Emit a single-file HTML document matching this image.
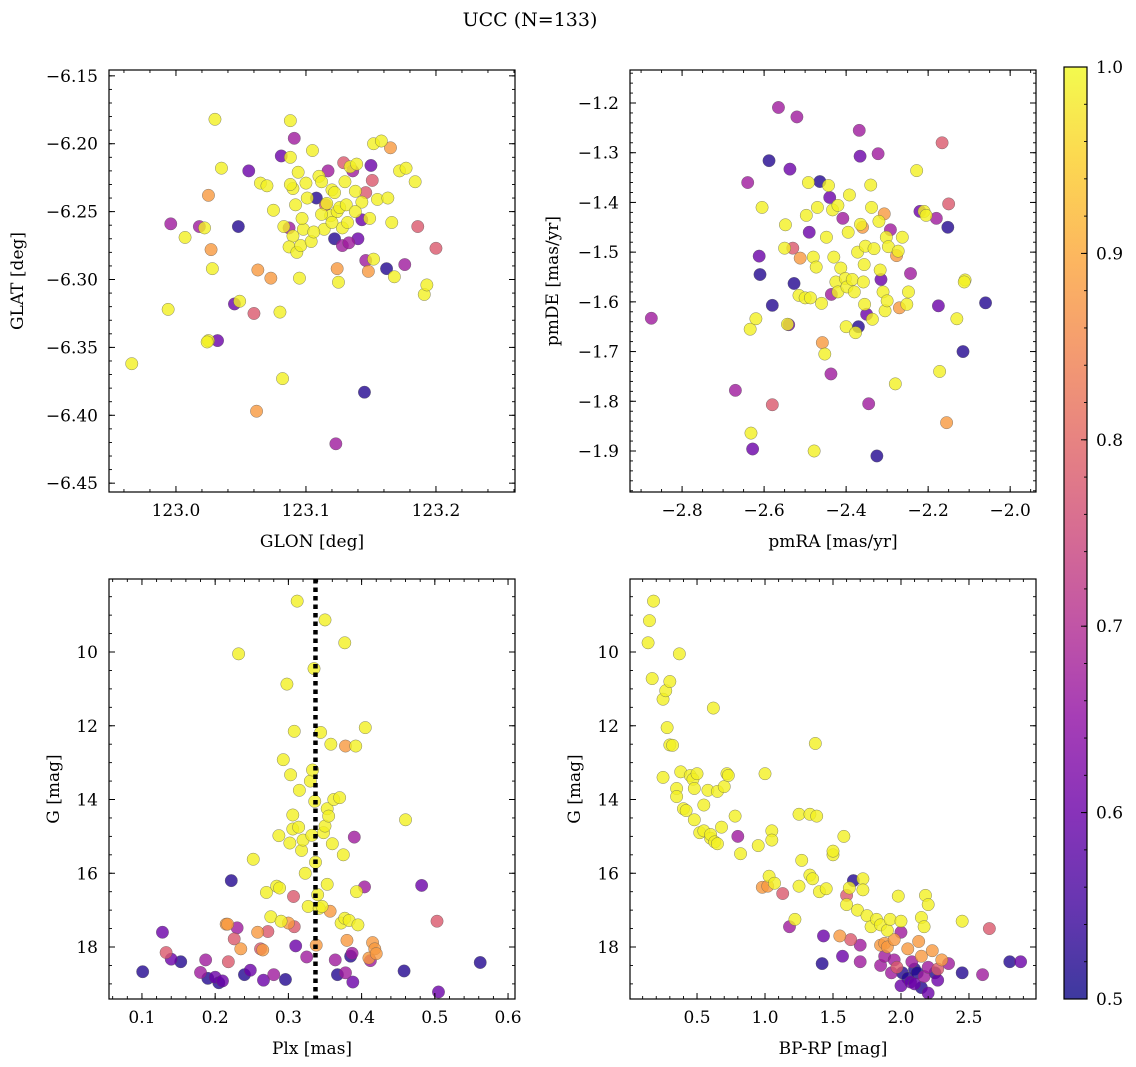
<!DOCTYPE html>
<html><head><meta charset="utf-8"><style>
html,body{margin:0;padding:0;background:#fff;}
svg{display:block;font-family:"DejaVu Serif","Liberation Serif",serif;}
</style></head><body>
<svg id="fig" width="1136" height="1067" viewBox="0 0 1136 1067">
<defs>
<linearGradient id="plasma" x1="0" y1="1" x2="0" y2="0">
<stop offset="0" stop-color="#0d0887"/><stop offset="0.1" stop-color="#41049d"/><stop offset="0.2" stop-color="#6a00a8"/><stop offset="0.3" stop-color="#8f0da4"/><stop offset="0.4" stop-color="#b12a90"/><stop offset="0.5" stop-color="#cc4778"/><stop offset="0.6" stop-color="#e16462"/><stop offset="0.7" stop-color="#f2844b"/><stop offset="0.8" stop-color="#fca636"/><stop offset="0.9" stop-color="#fcce25"/><stop offset="1" stop-color="#f0f921"/>
</linearGradient>
</defs>
<text x="530" y="26" font-size="19" text-anchor="middle">UCC (N=133)</text>
</svg>
<script>
const Y=0.99;
// Panel 1: GLON vs GLAT
const p1Lon=[122.966,122.994,122.996,123.007,123.018,123.022,123.025,123.024,123.032,123.025,123.027,123.028,123.030,123.035,123.045,123.049,123.048,123.056,123.060,123.062,123.063,123.065,123.070,123.075,123.073,123.080,123.083,123.081,123.082,123.088,123.088,123.091,123.090,123.088,123.092,123.094,123.087,123.090,123.087,123.093,123.095,123.098,123.096,123.101,123.104,123.105,123.108,123.110,123.112,123.114,123.115,123.117,123.119,123.120,123.122,123.122,123.123,123.124,123.125,123.124,123.126,123.128,123.128,123.129,123.130,123.131,123.133,123.134,123.136,123.138,123.139,123.140,123.143,123.143,123.145,123.146,123.146,123.148,123.149,123.150,123.151,123.152,123.152,123.155,123.158,123.162,123.163,123.165,123.166,123.168,123.172,123.176,123.177,123.184,123.186,123.191,123.193,123.200,123.112,123.106,123.120,123.116,123.132,123.100,123.097,123.138];
const p1Lat=[-6.362,-6.322,-6.259,-6.269,-6.261,-6.262,-6.345,-6.346,-6.345,-6.238,-6.278,-6.292,-6.182,-6.218,-6.318,-6.316,-6.261,-6.220,-6.325,-6.397,-6.293,-6.229,-6.231,-6.249,-6.299,-6.324,-6.261,-6.209,-6.373,-6.183,-6.210,-6.196,-6.233,-6.230,-6.245,-6.221,-6.262,-6.268,-6.276,-6.280,-6.299,-6.263,-6.275,-6.240,-6.272,-6.205,-6.240,-6.224,-6.228,-6.263,-6.245,-6.220,-6.253,-6.234,-6.236,-6.270,-6.421,-6.292,-6.302,-6.250,-6.247,-6.262,-6.275,-6.214,-6.228,-6.245,-6.273,-6.217,-6.220,-6.235,-6.215,-6.270,-6.256,-6.243,-6.383,-6.236,-6.286,-6.294,-6.255,-6.216,-6.227,-6.200,-6.285,-6.241,-6.198,-6.292,-6.240,-6.203,-6.258,-6.298,-6.220,-6.289,-6.218,-6.228,-6.261,-6.311,-6.304,-6.277,-6.252,-6.265,-6.258,-6.244,-6.258,-6.229,-6.255,-6.250];
const p1Prob=[Y,Y,0.67,Y,0.67,Y,Y,Y,0.6,0.88,0.88,Y,Y,Y,0.6,Y,0.52,0.6,0.78,0.88,0.88,Y,Y,Y,0.88,Y,Y,0.6,Y,Y,Y,0.67,Y,Y,Y,Y,0.67,Y,Y,Y,Y,Y,Y,Y,Y,Y,0.52,Y,Y,Y,0.78,0.67,Y,Y,Y,0.52,0.67,0.88,Y,Y,Y,Y,0.67,0.78,Y,Y,0.67,Y,0.67,Y,Y,0.6,0.6,Y,0.52,0.78,0.67,0.88,Y,0.6,0.78,Y,Y,Y,Y,0.52,Y,0.88,Y,Y,Y,0.67,Y,Y,0.78,Y,Y,0.78,Y,Y,Y,Y,Y,Y,Y,Y];
// Panel 2: pmRA vs pmDE
const p2Ra=[-2.875,-2.670,-2.640,-2.634,-2.632,-2.628,-2.620,-2.612,-2.610,-2.605,-2.588,-2.580,-2.580,-2.565,-2.550,-2.548,-2.543,-2.540,-2.537,-2.530,-2.527,-2.520,-2.515,-2.512,-2.500,-2.497,-2.492,-2.490,-2.487,-2.480,-2.478,-2.473,-2.470,-2.464,-2.460,-2.458,-2.452,-2.448,-2.443,-2.440,-2.437,-2.436,-2.433,-2.430,-2.425,-2.420,-2.420,-2.413,-2.408,-2.402,-2.400,-2.398,-2.395,-2.392,-2.385,-2.380,-2.377,-2.372,-2.370,-2.368,-2.366,-2.365,-2.360,-2.358,-2.356,-2.355,-2.353,-2.350,-2.345,-2.340,-2.338,-2.336,-2.332,-2.325,-2.322,-2.320,-2.317,-2.315,-2.310,-2.307,-2.305,-2.302,-2.300,-2.297,-2.292,-2.280,-2.277,-2.273,-2.270,-2.263,-2.252,-2.248,-2.243,-2.228,-2.220,-2.210,-2.205,-2.180,-2.175,-2.172,-2.166,-2.155,-2.152,-2.150,-2.130,-2.115,-2.110,-2.112,-2.060];
const p2De=[-1.633,-1.778,-1.360,-1.655,-1.864,-1.896,-1.634,-1.508,-1.545,-1.410,-1.316,-1.607,-1.807,-1.209,-1.492,-1.445,-1.645,-1.646,-1.333,-1.492,-1.563,-1.228,-1.587,-1.512,-1.592,-1.426,-1.360,-1.460,-1.592,-1.510,-1.900,-1.530,-1.410,-1.358,-1.603,-1.682,-1.705,-1.470,-1.366,-1.390,-1.745,-1.585,-1.415,-1.510,-1.560,-1.580,-1.406,-1.532,-1.432,-1.553,-1.650,-1.570,-1.460,-1.385,-1.555,-1.580,-1.662,-1.500,-1.650,-1.255,-1.307,-1.444,-1.450,-1.560,-1.525,-1.605,-1.488,-1.625,-1.805,-1.365,-1.410,-1.635,-1.493,-1.910,-1.302,-1.438,-1.536,-1.555,-1.580,-1.423,-1.618,-1.470,-1.598,-1.489,-1.455,-1.765,-1.507,-1.498,-1.612,-1.470,-1.605,-1.580,-1.543,-1.336,-1.418,-1.418,-1.426,-1.432,-1.608,-1.740,-1.280,-1.843,-1.450,-1.403,-1.634,-1.700,-1.556,-1.560,-1.602];
const p2Prob=[0.67,0.67,0.67,Y,Y,0.6,Y,0.6,0.52,Y,0.52,0.52,0.78,0.67,Y,Y,Y,0.6,0.6,0.78,0.52,0.67,Y,0.88,Y,Y,Y,0.6,Y,Y,Y,Y,Y,0.52,Y,0.88,Y,Y,Y,0.6,0.67,0.67,Y,Y,Y,Y,Y,Y,0.67,Y,Y,Y,Y,Y,Y,Y,Y,Y,0.52,0.67,0.6,Y,0.88,Y,Y,Y,Y,0.6,0.67,Y,Y,Y,Y,0.52,0.67,Y,Y,0.6,Y,0.88,Y,Y,Y,Y,0.67,Y,0.88,Y,0.88,Y,Y,Y,0.67,Y,0.6,Y,Y,0.67,0.6,Y,0.78,0.88,0.52,0.78,Y,0.52,Y,Y,0.52];
// Panel 3: Plx vs G
const plxMean=0.337;
const p3Plx=[0.101,0.128,0.133,0.140,0.153,0.180,0.187,0.190,0.200,0.205,0.210,0.215,0.217,0.218,0.222,0.226,0.230,0.232,0.235,0.240,0.248,0.252,0.258,0.262,0.265,0.266,0.270,0.272,0.276,0.280,0.284,0.287,0.288,0.290,0.293,0.296,0.298,0.300,0.302,0.303,0.306,0.306,0.307,0.308,0.308,0.310,0.312,0.314,0.315,0.318,0.320,0.323,0.325,0.327,0.330,0.332,0.333,0.335,0.336,0.337,0.338,0.340,0.342,0.344,0.346,0.348,0.350,0.350,0.353,0.353,0.355,0.357,0.358,0.360,0.362,0.364,0.367,0.370,0.372,0.375,0.377,0.377,0.378,0.378,0.380,0.383,0.385,0.387,0.388,0.390,0.392,0.393,0.395,0.404,0.405,0.410,0.412,0.415,0.418,0.420,0.458,0.460,0.482,0.503,0.505,0.562];
const p3G=[18.67,17.60,18.15,18.33,18.40,18.69,18.35,18.85,18.82,18.97,18.92,17.38,17.38,18.40,16.20,17.78,17.48,10.05,18.05,18.75,18.63,15.62,17.60,18.05,18.08,18.90,16.52,17.58,17.18,18.75,16.35,14.98,16.40,17.30,12.92,18.88,10.87,17.35,15.18,13.33,14.42,14.80,16.63,12.15,17.45,17.97,8.62,14.75,13.75,15.38,15.10,16.00,18.27,16.90,13.50,14.97,13.20,10.45,14.05,15.70,17.95,16.58,16.95,12.18,16.90,14.90,9.13,14.72,14.25,16.30,14.45,17.03,12.50,15.20,14.00,18.35,18.75,13.95,17.35,15.50,9.75,17.22,12.55,18.70,17.82,17.28,18.25,18.17,18.95,15.02,12.55,16.50,17.40,16.37,12.05,18.30,18.37,17.88,18.05,18.18,18.65,14.55,16.33,17.30,19.22,18.42];
const p3Prob=[0.52,0.6,0.78,0.6,0.52,0.67,0.67,0.52,0.6,0.52,0.6,0.88,0.88,0.78,0.52,0.78,0.67,Y,0.88,0.52,0.6,Y,0.88,0.78,0.88,0.6,Y,0.78,Y,0.67,Y,Y,Y,Y,Y,0.52,Y,0.88,Y,Y,Y,Y,0.78,Y,0.78,0.6,Y,Y,Y,Y,Y,Y,0.67,Y,Y,Y,Y,Y,Y,Y,0.88,Y,Y,Y,Y,Y,Y,Y,Y,Y,Y,0.88,Y,Y,Y,0.67,0.52,Y,Y,Y,Y,Y,0.88,0.67,0.88,Y,0.52,0.67,0.6,0.67,Y,Y,Y,0.67,Y,0.88,0.67,0.88,0.88,0.88,0.52,Y,0.6,0.78,0.6,0.52];
// Panel 4: BP-RP vs G
const p4Col=[0.14,0.15,0.18,0.17,0.25,0.27,0.28,0.30,0.30,0.32,0.25,0.35,0.35,0.37,0.38,0.40,0.42,0.45,0.47,0.48,0.50,0.48,0.52,0.55,0.55,0.58,0.60,0.60,0.62,0.63,0.65,0.65,0.68,0.70,0.72,0.73,0.78,0.80,0.82,0.95,0.98,1.00,1.02,1.03,1.05,1.05,1.07,1.13,1.18,1.22,1.25,1.25,1.27,1.33,1.33,1.35,1.37,1.38,1.40,1.43,1.42,1.45,1.50,1.50,1.55,1.57,1.58,1.60,1.60,1.62,1.63,1.65,1.68,1.70,1.70,1.72,1.72,1.75,1.78,1.82,1.85,1.85,1.85,1.88,1.88,1.90,1.90,1.92,1.93,1.95,1.95,1.97,1.98,2.00,2.00,2.00,2.01,2.05,2.05,2.07,2.08,2.10,2.10,2.12,2.13,2.15,2.15,2.15,2.17,2.17,2.18,2.20,2.20,2.20,2.23,2.25,2.27,2.27,2.30,2.35,2.45,2.45,2.60,2.65,2.80,2.88];
const p4G=[9.75,9.15,8.62,10.72,11.28,11.05,12.05,10.80,12.52,12.53,13.40,13.70,13.92,10.05,13.25,14.25,14.30,13.35,13.45,13.70,13.30,14.55,14.90,14.15,14.85,13.75,15.05,14.95,11.52,15.15,15.20,13.78,14.75,13.65,13.30,13.35,14.45,15.00,15.47,15.25,16.38,13.30,16.35,16.08,14.85,15.10,16.27,16.55,17.45,17.25,14.40,16.35,15.65,16.05,14.40,16.15,12.48,14.45,16.50,17.70,18.45,16.42,15.50,15.40,17.70,18.25,15.00,16.60,16.85,16.40,17.80,16.20,17.00,17.95,18.40,16.15,16.45,17.15,17.45,17.25,17.40,17.95,18.50,17.90,18.25,17.55,18.00,17.25,18.70,17.80,18.35,18.55,16.62,17.30,17.60,19.05,18.70,18.05,18.85,18.95,18.40,18.60,19.00,18.70,17.85,18.25,17.20,19.10,17.45,18.80,16.60,16.85,18.55,19.25,18.10,18.70,18.90,18.60,18.35,18.45,17.30,18.70,18.75,17.50,18.40,18.40];
const p4Prob=[Y,Y,Y,Y,Y,Y,Y,Y,Y,Y,Y,Y,Y,Y,Y,Y,Y,Y,Y,Y,Y,Y,Y,Y,Y,Y,Y,Y,Y,Y,Y,Y,Y,Y,Y,Y,Y,0.67,Y,Y,0.88,Y,0.88,Y,Y,Y,Y,0.78,0.67,Y,Y,Y,Y,Y,Y,Y,Y,Y,Y,0.6,0.52,Y,Y,Y,0.88,0.6,Y,0.78,Y,Y,0.78,0.52,Y,0.67,0.67,Y,Y,Y,Y,Y,Y,0.88,0.67,0.88,0.67,Y,0.88,Y,0.67,0.88,0.67,0.78,Y,Y,0.67,0.6,0.52,0.88,0.52,0.6,0.67,0.52,0.6,0.52,0.88,0.88,Y,0.52,Y,0.67,Y,Y,0.67,0.6,0.88,0.52,0.6,0.78,0.88,0.67,Y,0.52,0.67,0.78,0.52,0.6];
// Colorbar
const cbTicks=[0.5,0.6,0.7,0.8,0.9,1.0];
const cbLabels=["0.5","0.6","0.7","0.8","0.9","1.0"];

const NS="http://www.w3.org/2000/svg";
const svg=document.getElementById('fig');
function mk(tag,attrs,parent){const e=document.createElementNS(NS,tag);for(const k in attrs)e.setAttribute(k,attrs[k]);(parent||svg).appendChild(e);return e;}
const stops=[[0,13,8,135],[0.1,65,4,157],[0.2,106,0,168],[0.3,143,13,164],[0.4,177,42,144],[0.5,204,71,120],[0.6,225,100,98],[0.7,242,132,75],[0.8,252,166,54],[0.9,252,206,37],[1,240,249,33]];
function plasma(v){let t=Math.max(0,Math.min(1,(v-0.5)/0.5));for(let i=1;i<stops.length;i++){if(t<=stops[i][0]){const a=stops[i-1],b=stops[i];const f=(t-a[0])/(b[0]-a[0]);return 'rgb('+[1,2,3].map(j=>Math.round(a[j]+(b[j]-a[j])*f)).join(',')+')';}}return 'rgb(240,249,33)';}
function fmt(v,d){return (v<0?'\u2212':'')+Math.abs(v).toFixed(d);}
const TF=17, LF=17;

function panel(cfg){
  const g=mk('g',{});
  
  
  const sx=v=>cfg.L+(v-cfg.xmin)/(cfg.xmax-cfg.xmin)*(cfg.R-cfg.L);
  const sy=v=>cfg.T+(v-cfg.ytop)/(cfg.ybot-cfg.ytop)*(cfg.B-cfg.T);
  const idx=cfg.xs.map((_,i)=>i).sort((a,b)=>cfg.ps[a]-cfg.ps[b]);
  const pg=mk('g',{},g);
  
  
  idx.forEach(i=>{
    const c=mk('circle',{cx:sx(cfg.xs[i]),cy:sy(cfg.ys[i]),r:6.2,fill:plasma(cfg.ps[i]),'fill-opacity':0.8,stroke:'#555','stroke-width':0.5,'stroke-opacity':0.7},pg);
    
    
  });
  if(cfg.vline!==undefined){
    const l=mk('line',{x1:sx(cfg.vline),x2:sx(cfg.vline),y1:cfg.T,y2:cfg.B,stroke:'#000','stroke-width':4.5,'stroke-dasharray':'4.5,4'},g);
    
    
  }
  const fr=mk('rect',{x:cfg.L,y:cfg.T,width:cfg.R-cfg.L,height:cfg.B-cfg.T,fill:'none',stroke:'#000','stroke-width':1.2},g);
  
  
  const xStep=cfg.xt[1]-cfg.xt[0];
  for(let v=cfg.xt[0]-xStep*5;v<=cfg.xmax+1e-9;v+=xStep/cfg.xminor){
    if(v<cfg.xmin-1e-9)continue;const x=sx(v);
    mk('line',{x1:x,x2:x,y1:cfg.B,y2:cfg.B-3,stroke:'#000','stroke-width':0.9},g);
    mk('line',{x1:x,x2:x,y1:cfg.T,y2:cfg.T+3,stroke:'#000','stroke-width':0.9},g);
  }
  cfg.xt.forEach((v,i)=>{const x=sx(v);
    mk('line',{x1:x,x2:x,y1:cfg.B,y2:cfg.B-6,stroke:'#000','stroke-width':1},g);
    mk('line',{x1:x,x2:x,y1:cfg.T,y2:cfg.T+6,stroke:'#000','stroke-width':1},g);
    const t=mk('text',{x:x,y:cfg.B+24,'font-size':TF,'text-anchor':'middle'},g);t.textContent=cfg.xl[i];
    
    
  });
  const yStep=Math.abs(cfg.yt[1]-cfg.yt[0]);
  const ylo=Math.min(cfg.ytop,cfg.ybot),yhi=Math.max(cfg.ytop,cfg.ybot);
  for(let v=Math.min(...cfg.yt)-yStep*5;v<=yhi+1e-9;v+=yStep/cfg.yminor){
    if(v<ylo-1e-9)continue;const y=sy(v);
    mk('line',{x1:cfg.L,x2:cfg.L+3,y1:y,y2:y,stroke:'#000','stroke-width':0.9},g);
    mk('line',{x1:cfg.R,x2:cfg.R-3,y1:y,y2:y,stroke:'#000','stroke-width':0.9},g);
  }
  cfg.yt.forEach((v,i)=>{const y=sy(v);
    mk('line',{x1:cfg.L,x2:cfg.L+6,y1:y,y2:y,stroke:'#000','stroke-width':1},g);
    mk('line',{x1:cfg.R,x2:cfg.R-6,y1:y,y2:y,stroke:'#000','stroke-width':1},g);
    const t=mk('text',{x:cfg.L-11,y:y+6,'font-size':TF,'text-anchor':'end'},g);t.textContent=cfg.yl[i];
    
    
  });
  const xt=mk('text',{x:(cfg.L+cfg.R)/2,y:cfg.B+55,'font-size':LF,'text-anchor':'middle'},g);xt.textContent=cfg.xlabel;
  
  
  const yc=(cfg.T+cfg.B)/2;
  const yt=mk('text',{x:cfg.ylx,y:yc,'font-size':LF,'text-anchor':'middle',transform:'rotate(-90 '+cfg.ylx+' '+yc+')'},g);yt.textContent=cfg.ylabel;
  
  
}

panel({name:'position-panel',L:109,R:515,T:70,B:492,xmin:122.9485,xmax:123.2608,ytop:-6.1457,ybot:-6.4565,
 xt:[123.0,123.1,123.2],xl:['123.0','123.1','123.2'],xminor:5,
 yt:[-6.15,-6.20,-6.25,-6.30,-6.35,-6.40,-6.45],yl:[-6.15,-6.20,-6.25,-6.30,-6.35,-6.40,-6.45].map(v=>fmt(v,2)),yminor:5,
 xs:p1Lon,ys:p1Lat,ps:p1Prob,xlabel:'GLON [deg]',ylabel:'GLAT [deg]',ylx:23});
panel({name:'proper-motion-panel',L:630,R:1036,T:70,B:492,xmin:-2.927,xmax:-1.937,ytop:-1.1336,ybot:-1.9825,
 xt:[-2.8,-2.6,-2.4,-2.2,-2.0],xl:[-2.8,-2.6,-2.4,-2.2,-2.0].map(v=>fmt(v,1)),xminor:4,
 yt:[-1.2,-1.3,-1.4,-1.5,-1.6,-1.7,-1.8,-1.9],yl:[-1.2,-1.3,-1.4,-1.5,-1.6,-1.7,-1.8,-1.9].map(v=>fmt(v,1)),yminor:5,
 xs:p2Ra,ys:p2De,ps:p2Prob,xlabel:'pmRA [mas/yr]',ylabel:'pmDE [mas/yr]',ylx:558});
panel({name:'parallax-panel',L:109,R:515,T:579,B:999,xmin:0.055,xmax:0.6095,ytop:8.02,ybot:19.41,
 xt:[0.1,0.2,0.3,0.4,0.5,0.6],xl:['0.1','0.2','0.3','0.4','0.5','0.6'],xminor:5,
 yt:[10,12,14,16,18],yl:['10','12','14','16','18'],yminor:4,
 xs:p3Plx,ys:p3G,ps:p3Prob,xlabel:'Plx [mas]',ylabel:'G [mag]',ylx:59,vline:plxMean});
panel({name:'cmd-panel',L:630,R:1036,T:579,B:999,xmin:0.007,xmax:2.993,ytop:8.02,ybot:19.41,
 xt:[0.5,1.0,1.5,2.0,2.5],xl:['0.5','1.0','1.5','2.0','2.5'],xminor:5,
 yt:[10,12,14,16,18],yl:['10','12','14','16','18'],yminor:4,
 xs:p4Col,ys:p4G,ps:p4Prob,xlabel:'BP-RP [mag]',ylabel:'G [mag]',ylx:580});

const cb=mk('g',{});


const cT=67,cB=999,cL=1064,cR=1087;
mk('rect',{x:cL,y:cT,width:cR-cL,height:cB-cT,fill:'url(#plasma)','fill-opacity':0.8},cb);
mk('rect',{x:cL,y:cT,width:cR-cL,height:cB-cT,fill:'none',stroke:'#000','stroke-width':1.2},cb);
const cy=v=>cB-(v-0.5)/0.5*(cB-cT);
for(let v=0.5;v<=1.0001;v+=0.02){mk('line',{x1:cR,x2:cR-3,y1:cy(v),y2:cy(v),stroke:'#000','stroke-width':0.9},cb);}
cbTicks.forEach((v,i)=>{
  mk('line',{x1:cR,x2:cR-6,y1:cy(v),y2:cy(v),stroke:'#000','stroke-width':1},cb);
  const t=mk('text',{x:cR+9,y:cy(v)+6,'font-size':TF},cb);t.textContent=cbLabels[i];
  
  
});
</script>
</body></html>
